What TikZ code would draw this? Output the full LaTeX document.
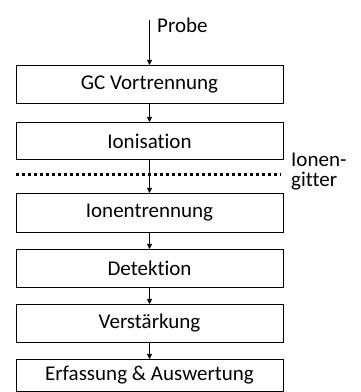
\documentclass[tikz,border=0pt]{standalone}
\usepackage{fontspec}
\setmainfont{Carlito}[Ligatures=NoCommon]
\usetikzlibrary{arrows.meta}
\begin{document}
\begin{tikzpicture}[x=1pt,y=1pt,
  stage/.style={draw, line width=0.8pt, minimum width=267pt, minimum height=38pt, inner sep=0pt, font=\fontsize{21}{24}\selectfont, anchor=north},
  flow/.style={-{Triangle[length=5pt,width=5pt]}, line width=0.6pt}]
\useasboundingbox (0,0) rectangle (361,392);
\node[stage] (b1) at (149.5,392-65) {GC Vortrennung};
\node[stage, minimum height=37pt] (b2) at (149.5,392-122) {Ionisation};
\node[stage, minimum height=39pt] (b3) at (149.5,392-193) {Ionentrennung};
\node[stage] (b4) at (149.5,392-249) {Detektion};
\node[stage] (b5) at (149.5,392-304) {Verstärkung};
\node[stage, minimum height=32pt] (b6) at (149.5,392-359) {Erfassung \& Auswertung};
\coordinate (p) at (149.5,392-20);
\node[anchor=base west, font=\fontsize{21}{24}\selectfont, inner sep=0pt] (probe) at (157,392-33) {Probe};
\draw[flow] (p) -- (b1.north);
\draw[flow] (b1) -- (b2);
\draw[flow] (b2) -- (b3);
\draw[flow] (b3) -- (b4);
\draw[flow] (b4) -- (b5);
\draw[flow] (b5) -- (b6);
\coordinate (g1) at (16,392-175);
\coordinate (g2) at (281,392-175);
\draw[line width=3pt, dash pattern=on 3pt off 3pt] (g1) -- (g2);
\node[anchor=north west, align=left, font=\fontsize{21}{20}\selectfont, inner sep=0pt] (gitter) at (291,392-153) {Ionen-\\gitter};
\end{tikzpicture}
\end{document}
